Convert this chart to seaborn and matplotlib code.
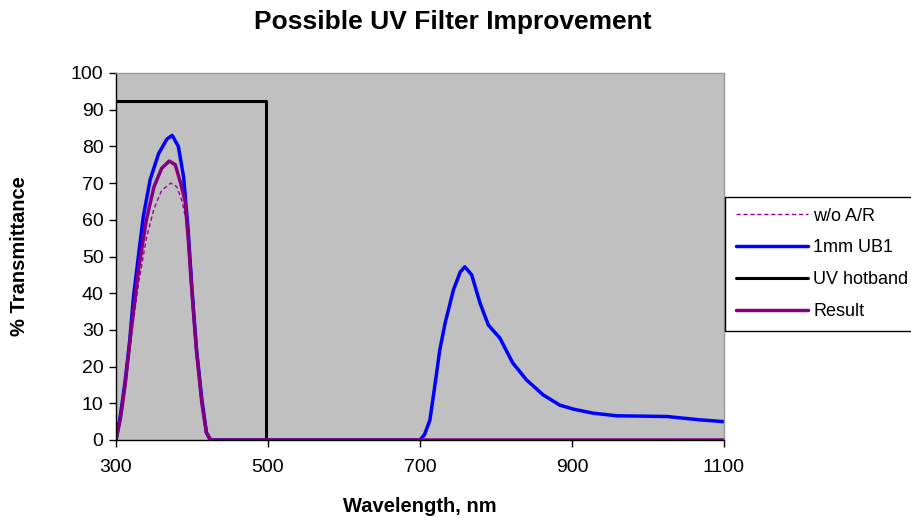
import matplotlib
matplotlib.use("Agg")
import matplotlib.pyplot as plt
import seaborn as sns

# ---- data ----
ub1_nm = [300, 306, 312, 318, 323, 330, 336, 345, 356, 367, 374, 382, 389, 395, 400, 406, 413, 419, 424,
          700, 706, 713, 720, 726, 733, 744, 753, 759, 768, 779, 790, 805, 822, 840, 862, 884, 902, 928,
          959, 1025, 1068, 1100]
ub1_t = [0, 7, 16, 27, 39, 51, 61, 71, 78, 82, 83, 80, 71.6, 57, 41, 24.5, 11, 2, 0,
         0, 1.5, 5.4, 15.5, 24.5, 31.8, 40.9, 45.8, 47.2, 45, 37.3, 31.3, 27.8, 21, 16.4, 12.3, 9.5, 8.4, 7.3,
         6.6, 6.4, 5.5, 5]

result_nm = [300, 306, 312, 320, 330, 340, 350, 360, 370, 378, 385, 391, 395, 400, 406, 413, 419, 425, 1100]
result_t = [0, 6, 15, 30, 47, 60, 69, 74, 76, 75, 70, 65, 55, 40, 24, 10, 2, 0, 0]

woar_nm = [300, 306, 312, 320, 330, 340, 350, 360, 372, 380, 387, 392, 396, 400, 406, 413, 419, 425, 1100]
woar_t = [0, 6, 14, 28, 43, 55, 63, 68, 70, 69, 65, 60, 53, 40, 24, 10, 2, 0, 0]

hot_nm = [300, 498, 498, 1100]
hot_t = [92.5, 92.5, 0, 0]

x_ticks = [300, 500, 700, 900, 1100]
y_ticks = list(range(0, 101, 10))

sns.set_theme(style="white")
plt.rcParams['font.family'] = ['Liberation Sans', 'DejaVu Sans']
plt.rcParams['text.color'] = 'black'
plt.rcParams['axes.labelcolor'] = 'black'
plt.rcParams['xtick.color'] = 'black'
plt.rcParams['ytick.color'] = 'black'

fig = plt.figure(figsize=(9.12, 5.18), dpi=100)
ax = fig.add_axes([116/912, 78/518, 608/912, 367/518])
ax.set_facecolor("#C0C0C0")

sns.lineplot(x=woar_nm, y=woar_t, ax=ax, color="#990099", lw=1.0, linestyle=(0, (3, 2)),
             estimator=None, sort=False, label="w/o A/R")
sns.lineplot(x=ub1_nm, y=ub1_t, ax=ax, color="#0000FF", lw=2.5,
             estimator=None, sort=False, label="1mm UB1")
sns.lineplot(x=hot_nm, y=hot_t, ax=ax, color="#000000", lw=2.2,
             estimator=None, sort=False, label="UV hotband")
sns.lineplot(x=result_nm, y=result_t, ax=ax, color="#800080", lw=2.5,
             estimator=None, sort=False, label="Result")

ax.set_xlim(300, 1100)
ax.set_ylim(0, 100)
ax.set_xticks(x_ticks)
ax.set_yticks(y_ticks)
ax.tick_params(axis="both", direction="out", length=5, width=1, color="black",
               labelsize=14, left=True, bottom=True, labelcolor="black")
ax.tick_params(axis="y", pad=4)
ax.tick_params(axis="x", pad=9)
for s in ["left", "bottom"]:
    ax.spines[s].set_color("#000000")
    ax.spines[s].set_linewidth(1)
for s in ["top", "right"]:
    ax.spines[s].set_color("#999999")
    ax.spines[s].set_linewidth(1)

ax.set_xlabel("Wavelength, nm", fontsize=14.5, fontweight="bold", labelpad=15)
ax.set_ylabel("% Transmittance", fontsize=14.5, fontweight="bold", labelpad=30)
fig.text(453/912, 1 - 22/518, "Possible UV Filter Improvement", ha="center", va="center",
         fontsize=19, fontweight="bold")

leg = ax.legend(loc="center left", bbox_to_anchor=(1.0015, 0.48), frameon=True, fancybox=False,
                framealpha=1, edgecolor="black", fontsize=13, handlelength=4.0,
                handletextpad=0.3, borderpad=0.6, labelspacing=0.82, borderaxespad=0)
leg.get_frame().set_linewidth(1)

fig.savefig("out.png", dpi=100)
